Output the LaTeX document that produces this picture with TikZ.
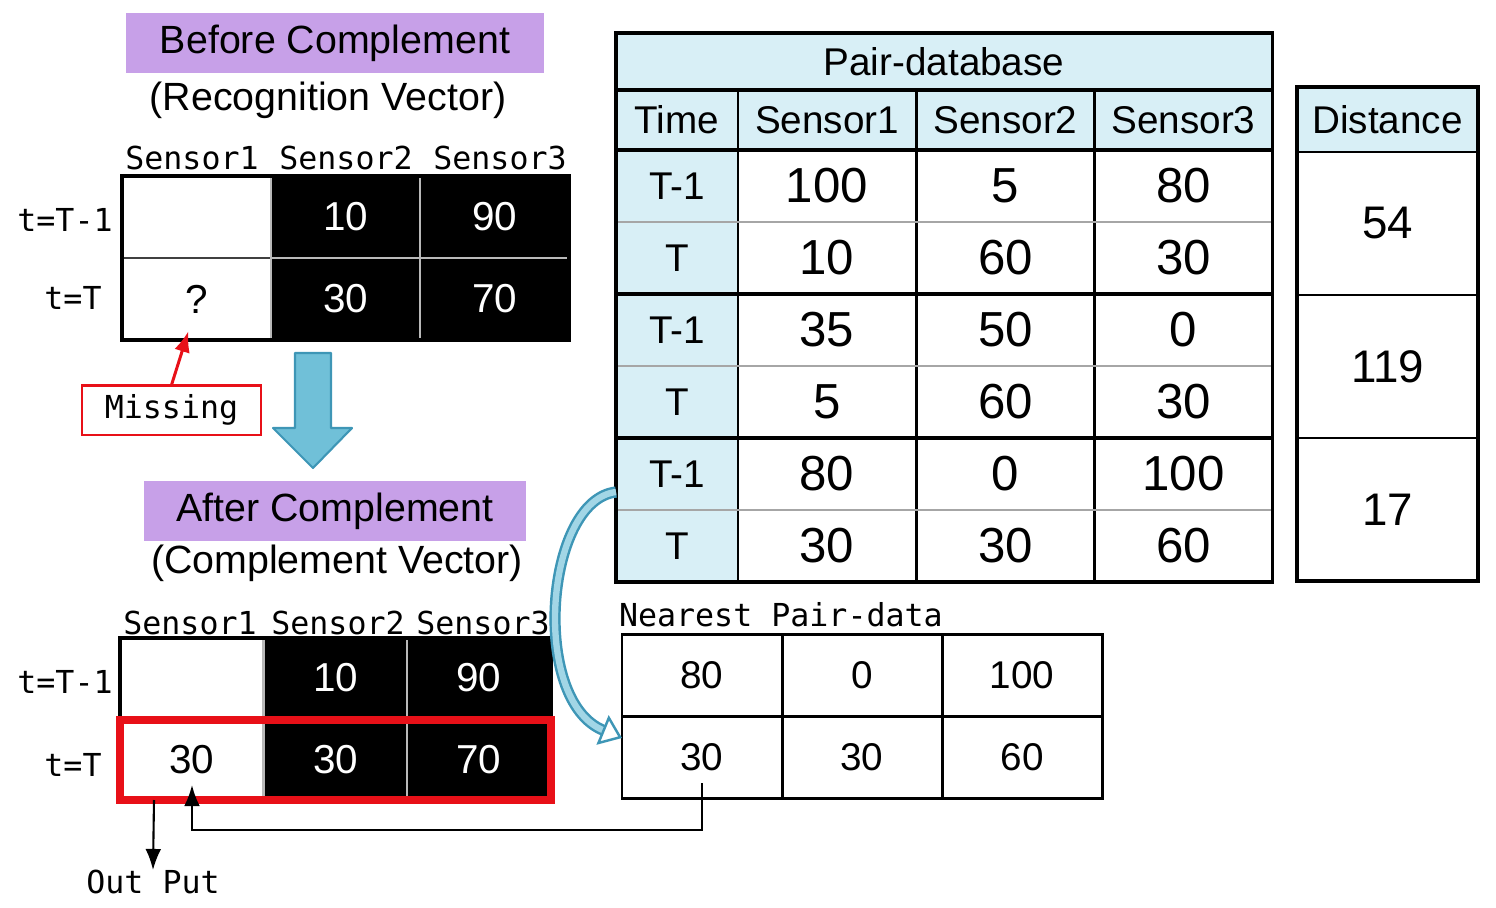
\documentclass[tikz,border=0pt]{standalone}
\usepackage{fontspec}
\setmainfont{Liberation Sans}
\newfontfamily\gothfont{DejaVu Sans Mono}
\usetikzlibrary{arrows.meta}

\definecolor{keyblue}{RGB}{216,239,246}
\definecolor{lavender}{RGB}{199,160,232}
\definecolor{flowfill}{RGB}{112,192,216}
\definecolor{flowline}{RGB}{62,150,182}
\definecolor{missred}{RGB}{232,16,24}

\begin{document}
\begin{tikzpicture}[
  x=0.1mm, y=-0.1mm,
  every node/.style = {inner sep=0pt, outer sep=0pt},
  tag/.style     = {fill=lavender, minimum height=6mm,
                    font=\fontsize{11.2}{13}\selectfont},
  caption/.style = {font=\fontsize{11.2}{13}\selectfont},
  goth/.style    = {font=\gothfont\fontsize{9}{11}\selectfont},
  vcell/.style   = {draw=black!75, line width=0.6pt,
                    minimum width=14.9mm, minimum height=8.2mm,
                    font=\fontsize{11.5}{13}\selectfont},
  dark/.style    = {vcell, fill=black, draw=gray!55, text=white},
  small/.style   = {minimum width=14.4mm, minimum height=8mm},
  pdkey/.style   = {draw, line width=0.6pt, fill=keyblue,
                    minimum width=12.2mm, minimum height=7.2mm,
                    font=\fontsize{11}{13}\selectfont},
  pdhead/.style  = {pdkey, minimum width=17.8mm, minimum height=6mm},
  pdnum/.style   = {draw, line width=0.6pt,
                    minimum width=17.8mm, minimum height=7.2mm,
                    font=\fontsize{14}{16}\selectfont},
  dist/.style    = {draw, line width=0.6pt,
                    minimum width=18.1mm, minimum height=14.3mm,
                    font=\fontsize{13}{15}\selectfont},
  npcell/.style  = {draw, line width=0.85pt,
                    minimum width=16mm, minimum height=8.2mm,
                    font=\fontsize{11}{13}\selectfont},
  frame/.style   = {line width=0.9pt},
  pairsep/.style = {gray!70, line width=0.6pt},
  arr/.style     = {-{Latex[length=6pt, width=4.5pt]}, line width=0.6pt},
  bigarr/.style  = {fill=flowfill, draw=flowline, line width=0.6pt,
                    line join=round},
  curve/.style   = {draw=flowline, double=flowfill!65, line width=0.7pt,
                    double distance=1.8pt,
                    -{Triangle[open, length=6pt, width=9pt]}},
]
\useasboundingbox (0,0) rectangle (1496,908);

%% ══ BEFORE: recognition vector ═══════════════════════════════════════════
\node[tag, minimum width=41.8mm] (bf-tag) at (335,43) {Before Complement};
\node[caption] (bf-cap) at (328,100) {(Recognition Vector)};

\node[goth] (bf-s1) at (192,158) {Sensor1};
\node[goth] (bf-s2) at (346,158) {Sensor2};
\node[goth] (bf-s3) at (500,158) {Sensor3};
\node[goth] (bf-t1) at (65,220) {t=T-1};
\node[goth] (bf-t0) at (73,298) {t=T};

\node[vcell] (bf-r1-c1) at (196.5,217) {};
\node[dark]  (bf-r1-c2) at (345.5,217) {10};
\node[dark]  (bf-r1-c3) at (494.5,217) {90};
\node[vcell] (bf-r2-c1) at (196.5,299) {?};
\node[dark]  (bf-r2-c2) at (345.5,299) {30};
\node[dark]  (bf-r2-c3) at (494.5,299) {70};
\draw[frame] (bf-r1-c1.north west) rectangle (bf-r2-c3.south east);

%% ── missing value ────────────────────────────────────────────────────────
\node[goth, draw=missred, line width=0.85pt,
      minimum width=17.9mm, minimum height=5mm] (miss) at (171.5,410) {Missing};
\draw[arr, missred, line width=0.85pt]
  (miss.north) -- ([xshift=-0.8mm, yshift=0.9mm]bf-r2-c1.south);

%% ── big arrow down ───────────────────────────────────────────────────────
\coordinate (dn) at (295,353);
\draw[bigarr] (dn) -- ++(36,0) -- ++(0,75) -- ++(21,0) -- ++(-39,40)
  -- ++(-40,-40) -- ++(22,0) -- cycle;

%% ══ AFTER: complement vector ═════════════════════════════════════════════
\node[tag, minimum width=38.2mm] (af-tag) at (335,511) {After Complement};
\node[caption] (af-cap) at (337,563) {(Complement Vector)};

\node[goth] (af-s1) at (190,623) {Sensor1};
\node[goth] (af-s2) at (338,623) {Sensor2};
\node[goth] (af-s3) at (483,623) {Sensor3};
\node[goth] (af-t1) at (65,682) {t=T-1};
\node[goth] (af-t0) at (73,765) {t=T};

\node[vcell, small] (af-r1-c1) at (192,678) {};
\node[dark, small]  (af-r1-c2) at (335.5,678) {10};
\node[dark, small]  (af-r1-c3) at (479,678) {90};
\node[vcell, small] (af-r2-c1) at (192,760) {30};
\node[dark, small]  (af-r2-c2) at (335.5,760) {30};
\node[dark, small]  (af-r2-c3) at (479,760) {70};
\draw[frame] (af-r1-c1.north west) rectangle (af-r2-c3.south east);
\draw[missred, line width=2pt]
  (af-r2-c1.north west) rectangle (af-r2-c3.south east);

%% ── output ───────────────────────────────────────────────────────────────
\node[goth] (out) at (153,882) {Out Put};
\draw[arr] ([xshift=-3.8mm]af-r2-c1.south) -- (out.north);

%% ══ PAIR-DATABASE ════════════════════════════════════════════════════════
\node[pdkey, minimum width=65.6mm, minimum height=5.7mm] (pd-title) at (944,61.5) {Pair-database};

\node[pdkey, minimum height=6mm] (pd-head-c0) at (677,120) {Time};
\node[pdhead] (pd-head-c1) at (827,120) {Sensor1};
\node[pdhead] (pd-head-c2) at (1005.5,120) {Sensor2};
\node[pdhead] (pd-head-c3) at (1183.5,120) {Sensor3};

\node[pdkey] (pd-r1-c0) at (677,186) {T-1};
\node[pdnum] (pd-r1-c1) at (827,186) {100};
\node[pdnum] (pd-r1-c2) at (1005.5,186) {5};
\node[pdnum] (pd-r1-c3) at (1183.5,186) {80};
\node[pdkey] (pd-r2-c0) at (677,258) {T};
\node[pdnum] (pd-r2-c1) at (827,258) {10};
\node[pdnum] (pd-r2-c2) at (1005.5,258) {60};
\node[pdnum] (pd-r2-c3) at (1183.5,258) {30};

\node[pdkey] (pd-r3-c0) at (677,330) {T-1};
\node[pdnum] (pd-r3-c1) at (827,330) {35};
\node[pdnum] (pd-r3-c2) at (1005.5,330) {50};
\node[pdnum] (pd-r3-c3) at (1183.5,330) {0};
\node[pdkey] (pd-r4-c0) at (677,402) {T};
\node[pdnum] (pd-r4-c1) at (827,402) {5};
\node[pdnum] (pd-r4-c2) at (1005.5,402) {60};
\node[pdnum] (pd-r4-c3) at (1183.5,402) {30};

\node[pdkey] (pd-r5-c0) at (677,474) {T-1};
\node[pdnum] (pd-r5-c1) at (827,474) {80};
\node[pdnum] (pd-r5-c2) at (1005.5,474) {0};
\node[pdnum] (pd-r5-c3) at (1183.5,474) {100};
\node[pdkey] (pd-r6-c0) at (677,546) {T};
\node[pdnum] (pd-r6-c1) at (827,546) {30};
\node[pdnum] (pd-r6-c2) at (1005.5,546) {30};
\node[pdnum] (pd-r6-c3) at (1183.5,546) {60};

%% ── row rules ────────────────────────────────────────────────────────────
\draw[pairsep] (pd-r1-c0.south west) -- (pd-r1-c3.south east);
\draw[pairsep] (pd-r3-c0.south west) -- (pd-r3-c3.south east);
\draw[pairsep] (pd-r5-c0.south west) -- (pd-r5-c3.south east);
\draw[frame] (pd-head-c0.north west) -- (pd-head-c3.north east);
\draw[frame] (pd-head-c0.south west) -- (pd-head-c3.south east);
\draw[frame] (pd-r2-c0.south west) -- (pd-r2-c3.south east);
\draw[frame] (pd-r4-c0.south west) -- (pd-r4-c3.south east);
\draw[frame] (pd-title.north west) rectangle (pd-r6-c3.south east);

%% ── distance column ──────────────────────────────────────────────────────
\node[pdkey, minimum width=18.1mm, minimum height=6.5mm] (ds-head) at (1387.5,119.5) {Distance};
\node[dist] (ds-r1) at (1387.5,223.5) {54};
\node[dist] (ds-r2) at (1387.5,366.5) {119};
\node[dist] (ds-r3) at (1387.5,509.5) {17};
\draw[frame] (ds-head.north west) rectangle (ds-r3.south east);

%% ══ NEAREST PAIR-DATA ════════════════════════════════════════════════════
\node[goth, anchor=west] (np-label) at (619,615) {Nearest Pair-data};

\node[npcell] (np-r1-c1) at (702,675) {80};
\node[npcell] (np-r1-c2) at (862,675) {0};
\node[npcell] (np-r1-c3) at (1022,675) {100};
\node[npcell] (np-r2-c1) at (702,757) {30};
\node[npcell] (np-r2-c2) at (862,757) {30};
\node[npcell] (np-r2-c3) at (1022,757) {60};

%% ── pick nearest pair, copy value back ───────────────────────────────────
\draw[curve] ([yshift=-1.8mm]pd-r5-c0.west) .. controls (545,500) and (530,700)
  .. ([yshift=1.9mm]np-r2-c1.west);
\draw[arr] ([yshift=-2.6mm]np-r2-c1.center) -- ++(0,47)
  -| ([yshift=-2.5mm]af-r2-c1.center);

\end{tikzpicture}
\end{document}
